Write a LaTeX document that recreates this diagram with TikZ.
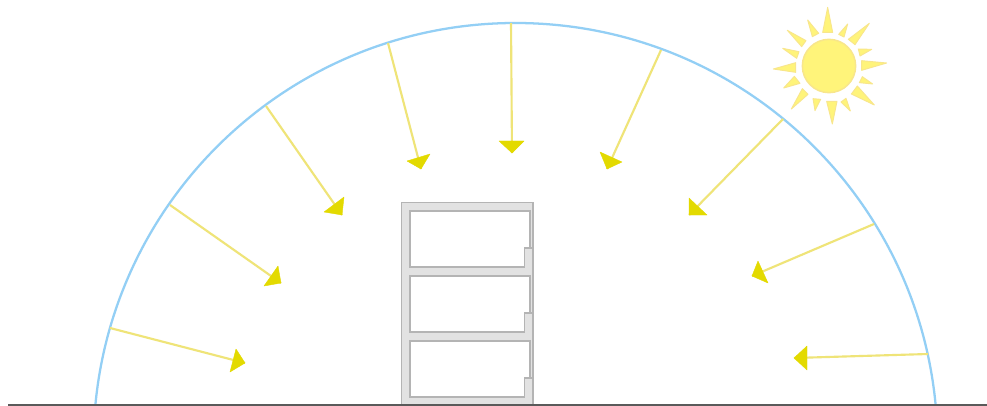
\documentclass[tikz,border=0pt]{standalone}
\begin{document}
\begin{tikzpicture}[x=0.75pt,y=-0.75pt,
  ray/.style={draw=rayline,line width=1.6pt},
  rayhead/.style={fill=rayhead,draw=rayhead,line width=0.3pt,line join=round},
  dome/.style={draw=domeblue,line width=1.7pt},
  ground/.style={draw=groundgray,line width=1.1pt},
  wall/.style={fill=wallfill,draw=wallline,line width=1.4pt,line join=miter},
  room/.style={fill=white,draw=wallline,line width=1.4pt,line join=miter},
  sunray/.style={fill=sunfill,draw=sunedge,line width=0.7pt,line join=round},
  sundisc/.style={fill=sunfill,draw=sunedge,line width=1.1pt}]
\definecolor{rayline}{HTML}{EFE478}
\definecolor{rayhead}{HTML}{E3DA00}
\definecolor{domeblue}{HTML}{93CFF5}
\definecolor{groundgray}{HTML}{5A5A5A}
\definecolor{wallfill}{HTML}{E2E2E2}
\definecolor{wallline}{HTML}{B4B4B4}
\definecolor{sunfill}{HTML}{FFF47A}
\definecolor{sunedge}{HTML}{F8E68C}
\useasboundingbox (0,0) rectangle (987,406);
\fill[white] (0,0) rectangle (987,406);
% dome
\begin{scope}
  \clip (0,0) rectangle (987,405);
  \draw[dome] (515.5,445) circle [radius=422];
\end{scope}
% building
\begin{scope}
  \clip (0,0) rectangle (987,405);
  \draw[wall] (401.5,202.5) rectangle (533,412);
  \foreach \top/\stp/\bot in {211/248/267,276/313/332,341/378/397}{
    \draw[room] (410,\top) -- (530,\top) -- (530,\stp) -- (524.5,\stp) -- (524.5,\bot) -- (410,\bot) -- cycle;
    \draw[wallline,line width=1.4pt] (524.5,\stp) -- (533,\stp);
  }
\end{scope}
\draw[ground] (8,405) -- (987,405);
% rays
\foreach \i/\ax/\ay/\bx/\by/\cx/\cy/\dx/\dy in {
  a/110/328/236/349/230/372/245/363,
  b/170/205/278/266/264/286/281/283,
  c/266/106/344/197/324/212/342/215,
  d/388/43/430/154/407/161/421/169,
  e/511/23/499/141/524/141/512/153,
  f/661/50/600/152/622/162/607/169,
  g/783/119/689/198/707/215/689/215,
  h/874/224/758/261/768/283/752/276,
  k/928/354/807/346/807/370/794/358}{
  \coordinate (tail\i) at (\ax,\ay);
  \coordinate (tip\i) at (\dx,\dy);
  \draw[ray] (tail\i) -- (tip\i);
  \fill[rayhead] (\bx,\by) -- (\cx,\cy) -- (tip\i) -- cycle;
}
% sun
\begin{scope}[shift={(760,0)},x=0.25pt,y=-0.25pt]
  \draw[sundisc] (207,198) circle [radius=80];
  \foreach \pa/\pb/\qa/\qb/\ra/\rb in {
    203/22/188/97/218/97,
    263/72/236/103/252/111,
    328/70/265/118/285/134,
    335/148/295/147/300/168,
    380/189/305/182/305/211,
    338/252/307/230/298/248,
    343/315/292/258/274/282,
    271/333/258/295/243/306,
    217/372/200/304/231/304,
    165/332/159/296/182/298,
    94/327/127/266/144/283,
    71/264/103/229/120/250,
    40/207/107/188/107/217,
    68/145/117/155/110/175,
    82/91/138/122/125/140,
    143/60/176/100/157/110}{
    \draw[sunray] (\pa,\pb) -- (\qa,\qb) -- (\ra,\rb) -- cycle;
  }
\end{scope}
\end{tikzpicture}
\end{document}
